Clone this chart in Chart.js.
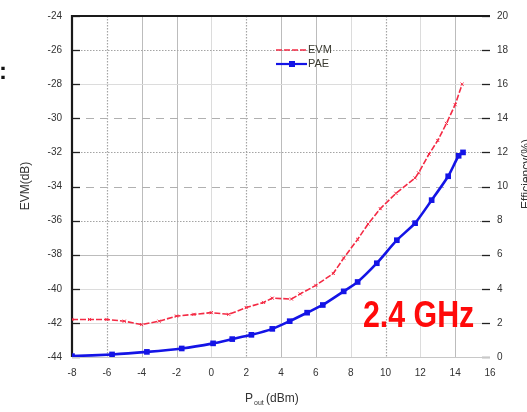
<!DOCTYPE html>
<html>
<head>
<meta charset="utf-8">
<script src="https://cdn.jsdelivr.net/npm/chart.js@4"></script>
<style>
  html, body { margin: 0; padding: 0; background: #fff; }
  #wrap { width: 527px; height: 412px; position: relative; }
</style>
</head>
<body>
<div id="wrap"><canvas id="c"></canvas></div>
<script>
// EVM vs output power (left axis, dB)
const evmPout = [-8, -7, -6, -5, -4, -3, -2, -1, 0, 1, 2, 3, 3.5, 4.6, 5.1, 6, 7, 7.6, 8.4, 9, 9.7, 10.6, 11.7, 11.9, 12.5, 13, 13.5, 14, 14.4];
const evmDb   = [-41.8, -41.8, -41.8, -41.9, -42.1, -41.9, -41.6, -41.5, -41.4, -41.5, -41.1, -40.8, -40.55, -40.6, -40.3, -39.8, -39.1, -38.2, -37.1, -36.2, -35.3, -34.4, -33.5, -33.2, -32.1, -31.3, -30.3, -29.2, -28.0];

// PAE vs output power (right axis, %)
const paePout = [-8, -5.7, -3.7, -1.7, 0.1, 1.2, 2.3, 3.5, 4.5, 5.5, 6.4, 7.6, 8.4, 9.5, 10.65, 11.7, 12.65, 13.6, 14.2, 14.45];
const paePct  = [0.05, 0.15, 0.3, 0.5, 0.8, 1.05, 1.3, 1.65, 2.1, 2.6, 3.05, 3.85, 4.4, 5.5, 6.85, 7.85, 9.2, 10.6, 11.8, 12.0];

const xTicks = [-8, -6, -4, -2, 0, 2, 4, 6, 8, 10, 12, 14, 16];
const evmTicks = [-24, -26, -28, -30, -32, -34, -36, -38, -40, -42, -44];
const paeTicks = [0, 2, 4, 6, 8, 10, 12, 14, 16, 18, 20];

const RED = '#f42a44';
const BLUE = '#1414e6';
const FONT = '"Liberation Sans", Arial, sans-serif';

// grid style per tick value (mixed solid / dotted like the original plot)
const vStyle = { '-6': 'dot', '2': 'dot', '10': 'dot', '0': 'light', '8': 'light', '12': 'light' };
const hStyle = { '-26': 'dot', '-32': 'dot', '-36': 'dot', '-30': 'dash', '-34': 'dash', '-28': 'light', '-40': 'light', '-42': 'light' };

function setLine(ctx, kind) {
    if (kind === 'dot') { ctx.strokeStyle = '#a4a4a4'; ctx.setLineDash([1.5, 1.5]); ctx.lineWidth = 1.2; }
    else if (kind === 'dash') { ctx.strokeStyle = '#b0b0b0'; ctx.setLineDash([8, 6]); ctx.lineWidth = 1; }
    else if (kind === 'light') { ctx.strokeStyle = '#dcdcdc'; ctx.setLineDash([]); ctx.lineWidth = 1; }
    else { ctx.strokeStyle = '#bcbcbc'; ctx.setLineDash([]); ctx.lineWidth = 1; }
}

const framePlugin = {
    id: 'frame',
    beforeDatasetsDraw(chart) {
        const { ctx, chartArea: a, scales } = chart;
        ctx.save();
        scales.x.ticks.forEach(t => {
            if (t.value <= -8 || t.value >= 16) return;
            const px = Math.round(scales.x.getPixelForValue(t.value)) + 0.5;
            setLine(ctx, vStyle[t.value]);
            ctx.beginPath(); ctx.moveTo(px, a.top); ctx.lineTo(px, a.bottom); ctx.stroke();
        });
        scales.y.ticks.forEach(t => {
            if (t.value <= -44 || t.value >= -24) return;
            const py = Math.round(scales.y.getPixelForValue(t.value)) + 0.5;
            setLine(ctx, hStyle[t.value]);
            ctx.beginPath(); ctx.moveTo(a.left, py); ctx.lineTo(a.right, py); ctx.stroke();
        });
        ctx.setLineDash([]);
        // inward tick marks on both y axes
        ctx.strokeStyle = '#222'; ctx.lineWidth = 1.3;
        scales.y.ticks.forEach(t => {
            const py = Math.round(scales.y.getPixelForValue(t.value)) + 0.5;
            ctx.beginPath(); ctx.moveTo(a.left, py); ctx.lineTo(a.left + 8, py); ctx.stroke();
        });
        scales.y1.ticks.forEach(t => {
            const py = Math.round(scales.y1.getPixelForValue(t.value)) + 0.5;
            ctx.beginPath(); ctx.moveTo(a.right - 8, py); ctx.lineTo(a.right, py); ctx.stroke();
        });
        // bottom edge, then heavy top and left edges
        ctx.strokeStyle = '#c8c8c8'; ctx.lineWidth = 1;
        ctx.beginPath(); ctx.moveTo(a.left, a.bottom + 0.5); ctx.lineTo(a.right, a.bottom + 0.5); ctx.stroke();
        ctx.strokeStyle = '#1a1a1a'; ctx.lineWidth = 2.2;
        ctx.beginPath(); ctx.moveTo(a.left, a.bottom); ctx.lineTo(a.left, a.top); ctx.lineTo(a.right, a.top); ctx.stroke();
        ctx.restore();
    },
    afterDatasetsDraw(chart) {
        const { ctx } = chart;
        ctx.save();
        // legend box inside the plot
        ctx.lineWidth = 1.6;
        ctx.strokeStyle = RED; ctx.setLineDash([6, 2]);
        ctx.beginPath(); ctx.moveTo(276, 50); ctx.lineTo(307, 50); ctx.stroke();
        ctx.setLineDash([]);
        ctx.strokeStyle = BLUE; ctx.lineWidth = 2.2;
        ctx.beginPath(); ctx.moveTo(276, 64); ctx.lineTo(307, 64); ctx.stroke();
        ctx.fillStyle = BLUE; ctx.fillRect(289, 61, 6, 6);
        ctx.fillStyle = '#3a3a30'; ctx.font = '11px ' + FONT;
        ctx.textAlign = 'left'; ctx.textBaseline = 'middle';
        ctx.fillText('EVM', 308, 50);
        ctx.fillText('PAE', 308, 64);

        // frequency label, squeezed to a narrow face
        ctx.save();
        ctx.fillStyle = '#ff0a0a';
        ctx.font = 'bold 37px ' + FONT;
        ctx.textBaseline = 'alphabetic';
        ctx.translate(363, 327);
        ctx.scale(0.82, 1);
        ctx.fillText('2.4 GHz', 0, 0);
        ctx.restore();

        // axis titles
        ctx.fillStyle = '#333';
        ctx.font = '12px ' + FONT;
        ctx.textAlign = 'center';
        ctx.textBaseline = 'alphabetic';
        ctx.save(); ctx.translate(29, 186); ctx.rotate(-Math.PI / 2); ctx.fillText('EVM(dB)', 0, 0); ctx.restore();
        ctx.save(); ctx.translate(530, 174); ctx.rotate(-Math.PI / 2); ctx.fillText('Efficiency(%)', 0, 0); ctx.restore();

        ctx.textAlign = 'left';
        ctx.font = '12px ' + FONT;
        ctx.fillText('P', 245, 402);
        ctx.font = '7px ' + FONT;
        ctx.fillText('out', 254, 405);
        ctx.font = '12px ' + FONT;
        ctx.fillText('(dBm)', 266, 402);

        ctx.fillStyle = '#111';
        ctx.font = 'bold 24px ' + FONT;
        ctx.fillText(':', -1, 79);
        ctx.restore();
    }
};

new Chart(document.getElementById('c'), {
    type: 'line',
    data: {
        datasets: [
            {
                label: 'EVM',
                data: evmPout.map((x, i) => ({ x, y: evmDb[i] })),
                yAxisID: 'y',
                borderColor: RED,
                backgroundColor: RED,
                borderWidth: 1.6,
                borderDash: [6, 2],
                pointStyle: 'crossRot',
                pointRadius: 2.2,
                pointBorderWidth: 1,
                tension: 0
            },
            {
                label: 'PAE',
                data: paePout.map((x, i) => ({ x, y: paePct[i] })),
                yAxisID: 'y1',
                borderColor: BLUE,
                backgroundColor: BLUE,
                borderWidth: 2.6,
                pointStyle: 'rect',
                pointRadius: 4,
                pointBorderWidth: 0,
                tension: 0.2
            }
        ]
    },
    options: {
        responsive: true,
        maintainAspectRatio: false,
        animation: false,
        layout: { padding: { top: 15, left: 0, right: 0, bottom: 0 } },
        plugins: { legend: { display: false }, tooltip: { enabled: false } },
        scales: {
            x: {
                type: 'linear', min: -8, max: 16,
                afterBuildTicks: s => { s.ticks = xTicks.map(v => ({ value: v })); },
                afterFit: s => { s.height = 55; },
                grid: { display: false, drawTicks: false },
                border: { display: false },
                ticks: { padding: 10, color: '#333', font: { family: FONT, size: 10 } }
            },
            y: {
                type: 'linear', position: 'left', min: -44, max: -24,
                afterBuildTicks: s => { s.ticks = evmTicks.map(v => ({ value: v })); },
                afterFit: s => { s.width = 72; },
                grid: { display: false, drawTicks: false },
                border: { display: false },
                ticks: { padding: 10, color: '#333', font: { family: FONT, size: 10 } }
            },
            y1: {
                type: 'linear', position: 'right', min: 0, max: 20,
                afterBuildTicks: s => { s.ticks = paeTicks.map(v => ({ value: v })); },
                afterFit: s => { s.width = 37; },
                grid: { display: false, drawTicks: false },
                border: { display: false },
                ticks: { padding: 7, color: '#333', font: { family: FONT, size: 10 } }
            }
        }
    },
    plugins: [framePlugin]
});
</script>
</body>
</html>
